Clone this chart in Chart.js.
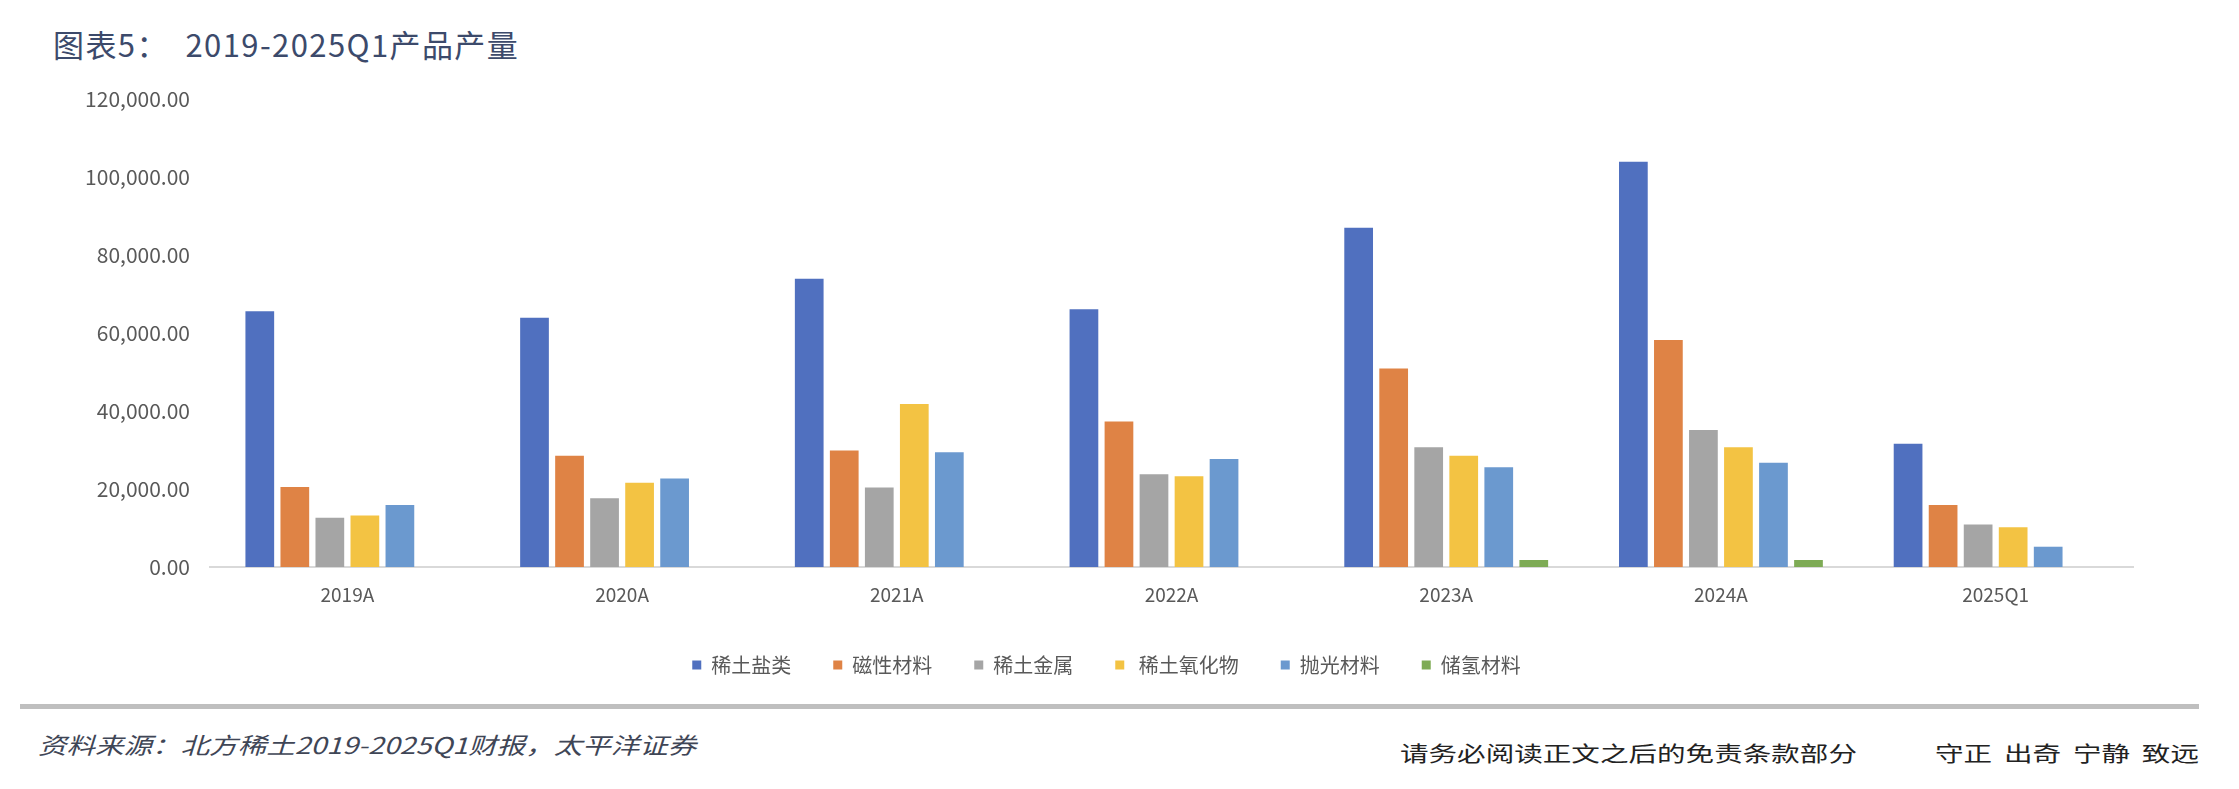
<!DOCTYPE html>
<html>
<head>
<meta charset="utf-8">
<script src="https://cdn.jsdelivr.net/npm/chart.js@4.4.0/dist/chart.umd.min.js"></script>
<style>
    body{
        margin: 0;
        width: 2239px;
        height: 789px;
        background: #fff;
        position: relative;
        overflow: hidden;
        font-family: "Noto Sans CJK SC", "Noto Sans", sans-serif;
    }
    #box{
        position: absolute;
        left: 0;
        top: 0;
        width: 2239px;
        height: 700px;
    }
    .titel{
        position: absolute;
        left: 53px;
        top: 21px;
        font-size: 31px;
        letter-spacing: 1.4px;
        color: #3c4a6b;
        white-space: pre;
    }
    .lijn{
        position: absolute;
        left: 20px;
        top: 704px;
        width: 2179px;
        height: 5px;
        background: #bfbfbf;
    }
    .bron{
        position: absolute;
        left: 38px;
        top: 727px;
        font-size: 23px;
        font-style: italic;
        color: #3f4656;
        transform: scaleX(1.24);
        transform-origin: left;
        white-space: pre;
    }
    .disclaimer, .motto{
        position: absolute;
        top: 737px;
        font-size: 21px;
        color: #222;
        transform: scaleX(1.36);
        transform-origin: left;
        white-space: pre;
    }
    .disclaimer{ left: 1400px; }
    .motto{ left: 1935px; word-spacing: 4px; }
</style>
</head>
<body>
<div class="titel">图表5：  2019-2025Q1产品产量</div>
<div id="box"><canvas id="myChart"></canvas></div>
<div class="lijn"></div>
<div class="bron">资料来源：北方稀土2019-2025Q1财报，太平洋证券</div>
<div class="disclaimer">请务必阅读正文之后的免责条款部分</div>
<div class="motto">守正 出奇 宁静 致远</div>

<script>
// categorieen en waarden
var jaren = ['2019A', '2020A', '2021A', '2022A', '2023A', '2024A', '2025Q1'];
var reeksNamen = ['稀土盐类', '磁性材料', '稀土金属', ' 稀土氧化物', '抛光材料', '储氢材料'];
var kleuren = ['#5070bf', '#df8345', '#a5a5a5', '#f3c343', '#6b99cf', '#7eab55'];

var zoutSoorten = [65600, 63900, 73900, 66100, 87000, 103900, 31600];
var magneet = [20500, 28500, 29900, 37300, 50900, 58200, 15900];
var metaal = [12600, 17600, 20400, 23800, 30700, 35100, 10900];
var oxide = [13200, 21600, 41800, 23300, 28500, 30700, 10200];
var polijst = [15900, 22700, 29400, 27700, 25600, 26700, 5200];
var waterstof = [null, null, null, null, 1800, 1800, null];

var yMax = 120000;
var yStap = 20000;

var reeksen = [zoutSoorten, magneet, metaal, oxide, polijst, waterstof];

function maakDatasets(){
    var sets = [];
    for(var i = 0; i < reeksen.length; i++){
        sets.push({
            label: reeksNamen[i],
            data: reeksen[i],
            backgroundColor: kleuren[i],
            borderWidth: 0,
            categoryPercentage: 0.765,
            barPercentage: 0.82
        });
    }
    return sets;
}

function formatGetal(v){
    return v.toLocaleString('en-US', {minimumFractionDigits: 2, maximumFractionDigits: 2});
}

// legenda iets naar rechts, zoals in het origineel
var legendaSchuif = {
    id: 'legendaSchuif',
    afterLayout: function(chart){
        chart.legend.left += 40;
        chart.legend.right += 40;
    }
};

var ctx = document.getElementById('myChart').getContext('2d');
var chart = new Chart(ctx, {
    type: 'bar',
    data: {
        labels: jaren,
        datasets: maakDatasets()
    },
    plugins: [legendaSchuif],
    options: {
        responsive: true,
        maintainAspectRatio: false,
        animation: false,
        layout: {
            padding: {top: 99, right: 106, left: 0, bottom: 15}
        },
        plugins: {
            tooltip: {enabled: false},
            legend: {
                position: 'bottom',
                labels: {
                    boxWidth: 9,
                    boxHeight: 9,
                    padding: 42,
                    color: '#595959',
                    font: {size: 20, family: '"Noto Sans CJK SC", sans-serif'}
                }
            }
        },
        scales: {
            x: {
                grid: {display: false},
                border: {color: '#d9d9d9', width: 2},
                ticks: {
                    color: '#595959',
                    padding: 8,
                    font: {size: 19, family: '"Noto Sans CJK SC", sans-serif'}
                },
                afterFit: function(scale){
                    scale.height = 46;
                }
            },
            y: {
                min: 0,
                max: yMax,
                grid: {display: false},
                border: {display: false},
                ticks: {
                    stepSize: yStap,
                    color: '#595959',
                    padding: 12,
                    font: {size: 21, family: '"Noto Sans CJK SC", sans-serif'},
                    callback: function(v){
                        return formatGetal(v);
                    }
                },
                afterFit: function(scale){
                    scale.width = 210;
                }
            }
        }
    }
});
</script>
</body>
</html>
